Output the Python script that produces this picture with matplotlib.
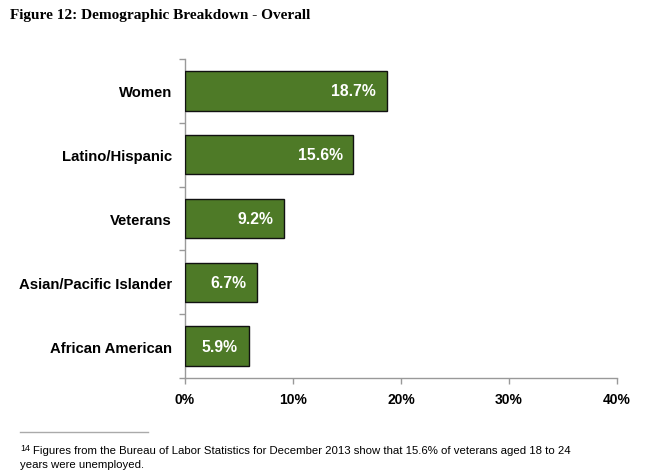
import matplotlib
matplotlib.use("Agg")
import matplotlib.pyplot as plt
from matplotlib.lines import Line2D

categories = ["Women", "Latino/Hispanic", "Veterans", "Asian/Pacific Islander", "African American"]
values = [18.7, 15.6, 9.2, 6.7, 5.9]
xticks = [0, 10, 20, 30, 40]
xtick_labels = ["0%", "10%", "20%", "30%", "40%"]

plt.rcParams['font.family'] = ['Liberation Sans', 'DejaVu Sans']

fig = plt.figure(figsize=(6.6, 4.77), dpi=100)
ax = fig.add_axes([185/660, 1-379/477, (617-185)/660, (379-60)/477])

n = len(categories)
ypos = list(range(n))
ax.barh(ypos, values, height=0.62, color="#4E7A27", edgecolor="#111111", linewidth=1.0, zorder=3)
ax.set_ylim(n - 0.5, -0.5)
ax.set_xlim(0, 40)

for y, v in zip(ypos, values):
    ax.text(v - 1.0, y, f"{v:.1f}%", ha="right", va="center", color="white",
            fontsize=11.3, fontweight="bold", zorder=4)

ax.set_xticks(xticks)
ax.set_xticklabels(xtick_labels, fontsize=10, fontweight="bold")
ax.set_yticks(ypos)
ax.set_yticklabels(categories, fontsize=10.7, fontweight="bold")
ax.tick_params(axis="y", length=0, pad=9.5)
ax.set_yticks([i + 0.5 for i in range(-1, n)], minor=True)
ax.tick_params(axis="y", which="minor", length=4, color="#999999", width=1)
ax.tick_params(axis="x", length=4, color="#999999", width=1, pad=6)
for s in ["top", "right"]:
    ax.spines[s].set_visible(False)
for s in ["left", "bottom"]:
    ax.spines[s].set_color("#999999")
    ax.spines[s].set_linewidth(1)

fig.text(10/660, 1-16/477, "Figure 12: Demographic Breakdown - Overall", fontsize=11,
         fontweight="bold", family=["Liberation Serif", "DejaVu Serif"], va="center", ha="left")

fig.add_artist(Line2D([20/660, 148/660], [1-433/477, 1-433/477], color="#aaaaaa", linewidth=1,
                      transform=fig.transFigure))
fig.text(20/660, 1-449/477, "14", fontsize=6.5, va="center", ha="left")
fig.text(33/660, 1-451/477,
         "Figures from the Bureau of Labor Statistics for December 2013 show that 15.6% of veterans aged 18 to 24",
         fontsize=8.2, va="center", ha="left")
fig.text(20/660, 1-465/477, "years were unemployed.", fontsize=8.2, va="center", ha="left")

fig.savefig("out.png", dpi=100)
